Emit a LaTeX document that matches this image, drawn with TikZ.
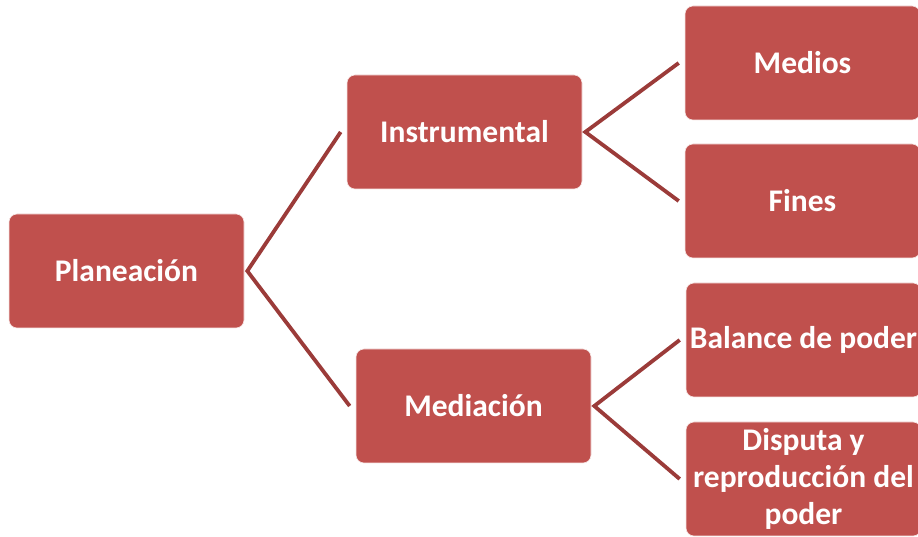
\documentclass[tikz,border=0pt]{standalone}
\usepackage{fontspec}
\setmainfont{Carlito}
\usetikzlibrary{calc}
\definecolor{boxred}{HTML}{C0504D}
\definecolor{linered}{HTML}{9B3B39}
\begin{document}
\begin{tikzpicture}[x=1pt,y=1pt,
  box/.style={draw=white!85!boxred,line width=0.6pt,fill=boxred,rounded corners=8pt,
    text=white,font=\fontsize{31.5}{37}\selectfont\bfseries,align=center,
    minimum width=235pt,minimum height=114pt,inner sep=0pt},
  conn/.style={draw=linered,line width=3.8pt,line join=miter}]
\useasboundingbox (0,0) rectangle (918,537);
\node[box] (plan) at (126.5,266) {Planeación};
\node[box] (inst) at (464.5,405) {Instrumental};
\node[box] (medi) at (473.5,131) {Mediación};
\node[box] (medios) at (802.5,474) {Medios};
\node[box] (fines) at (802.5,336) {Fines};
\node[box] (bal) at (803.5,197) {Balance de poder};
\node[box] (disp) at (803.5,58) {Disputa y\\reproducción del\\poder};
\draw[conn] ($(inst.west)+(-6,0)$) -- ($(plan.east)+(3,0)$) -- ($(medi.west)+(-6,0)$);
\draw[conn] ($(medios.west)+(-6,0)$) -- ($(inst.east)+(3,0)$) -- ($(fines.west)+(-6,0)$);
\draw[conn] ($(bal.west)+(-6,0)$) -- ($(medi.east)+(3,0)$) -- ($(disp.west)+(-6,0)$);
\end{tikzpicture}
\end{document}
